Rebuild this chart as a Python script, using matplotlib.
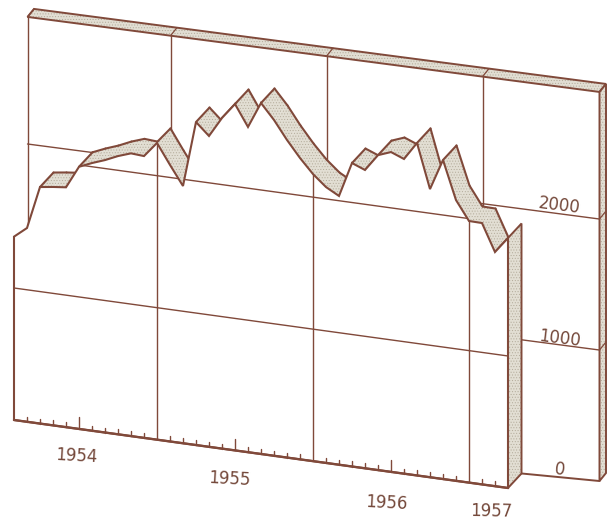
import matplotlib

matplotlib.use("Agg")
import matplotlib.pyplot as plt
from matplotlib.patches import Polygon

# monthly values, Feb 1954 to Apr 1957
months = list(range(39))
values = [1389, 1468, 1792, 1806, 1817, 1986, 2028, 2064, 2108, 2142, 2135, 2248,
          2095, 1949, 2447, 2355, 2505, 2624, 2464, 2659, 2544, 2406, 2283, 2175,
          2090, 2036, 2299, 2260, 2386, 2423, 2384, 2519, 2183, 2417, 2127, 1982,
          1980, 1774, 1894]
year_starts = [11, 23, 35]
mid_years = [5, 17, 29]
grid_values = [1000, 2000]
value_labels = ["2000", "1000", "0"]
year_labels = ["1954", "1955", "1956", "1957"]

INK = "#80493a"
SHADE = "#e2ded3"
DOTS = "#b3ab9a"
TEXT = "#74483a"
WALL_END = 44
WALL_TOP = 2970
DEPTH = (13.5, -14.5)
SLAB = (6.5, -8)

plt.rcParams["hatch.linewidth"] = 0.4


def front_xy(m, v):
    return 14 + 13 * m, 420 + 1.789 * m - 0.132 * v


def wall_xy(m, v):
    return 27.5 + 13 * m, 406 + 1.705 * m - 0.131 * v


def shift(p, d):
    return p[0] + d[0], p[1] + d[1]


def line(ax, a, b, lw=1.0, zorder=2, **kw):
    return ax.plot([a[0], b[0]], [a[1], b[1]], color=INK, lw=lw,
                   solid_capstyle="round", zorder=zorder, **kw)[0]


def shaded(ax, corners, outline=True, lw=1.4):
    ax.add_patch(Polygon(corners, zorder=2, fc=SHADE, ec=DOTS, lw=0, hatch="......"))
    if outline:
        ax.add_patch(Polygon(corners, zorder=2, fc="none", ec=INK, lw=lw))


fig = plt.figure(figsize=(6.08, 5.2), dpi=100, facecolor="white")
ax = fig.add_axes([0, 0, 1, 1])
ax.set_xlim(0, 608)
ax.set_ylim(520, 0)
ax.axis("off")

# slab top and right side of the back wall
tl, tr = wall_xy(0, WALL_TOP), wall_xy(WALL_END, WALL_TOP)
br = wall_xy(WALL_END, 0)
shaded(ax, [tl, tr, shift(tr, SLAB), shift(tl, SLAB)])
shaded(ax, [tr, br, shift(br, SLAB), shift(tr, SLAB)])

# wall grid
for g in grid_values:
    line(ax, wall_xy(0, g), wall_xy(WALL_END, g))
    line(ax, wall_xy(WALL_END, g), shift(wall_xy(WALL_END, g), SLAB), lw=0.9)
for m in [0] + year_starts:
    line(ax, wall_xy(m, WALL_TOP), wall_xy(m, 0))
    line(ax, wall_xy(m, WALL_TOP), shift(wall_xy(m, WALL_TOP), SLAB), lw=0.9)
end_base = shift(front_xy(months[-1], 0), DEPTH)
line(ax, end_base, br, lw=1.4)

# ribbon on top of the curve, drawn right to left so nearer parts cover farther ones
pts = [front_xy(m, v) for m, v in zip(months, values)]
back = [shift(p, DEPTH) for p in pts]


def faces_up(i):
    dx = pts[i + 1][0] - pts[i][0]
    dy = pts[i + 1][1] - pts[i][1]
    return dx * DEPTH[1] - dy * DEPTH[0] < 0


# the first month has no ribbon in the original
for i in range(len(pts) - 2, 0, -1):
    if not faces_up(i):
        continue
    shaded(ax, [pts[i], pts[i + 1], back[i + 1], back[i]], outline=False)
    line(ax, back[i], back[i + 1], lw=1.5)
    if not faces_up(i - 1):
        line(ax, pts[i], back[i], lw=1.5)
    if i == len(pts) - 2 or not faces_up(i + 1):
        line(ax, pts[i + 1], back[i + 1], lw=1.5)

# end face
last = pts[-1]
base = front_xy(months[-1], 0)
shaded(ax, [last, base, shift(base, DEPTH), shift(last, DEPTH)])

# front face hides whatever lies behind it
outline = pts + [base, front_xy(months[0], 0)]
face = Polygon(outline, fc="white", ec=INK, lw=1.5, zorder=3)
ax.add_patch(face)
for g in grid_values:
    ln = line(ax, front_xy(0, g), front_xy(months[-1], g), zorder=3)
    ln.set_clip_path(face)
for m in year_starts:
    ln = line(ax, front_xy(m, 0), front_xy(m, 3000), zorder=3)
    ln.set_clip_path(face)

# month ticks on the baseline
line(ax, front_xy(0, 0), base, lw=1.7, zorder=4)
for m in months[1:-1]:
    tick = 0
    if m in mid_years:
        tick = 90
    elif m not in year_starts:
        tick = 38
    if tick:
        line(ax, front_xy(m, 0), front_xy(m, tick), lw=1.0, zorder=4)

# value labels on the wall
font = dict(color=TEXT, fontsize=12, family="DejaVu Sans", ha="center", va="center", zorder=5)
for txt, g, up in zip(value_labels, [2000, 1000, 0], [8, 6, 6]):
    x, y = wall_xy(41, g)
    ax.text(x - 1, y - up, txt, rotation=-7, **font)

# year labels sit below the baseline
for txt, m, off, tilt in zip(year_labels, [4.7, 16.5, 28.6, 36.6], [28, 30, 32, 25.5], [-3, -3, -3, -1]):
    x, y = front_xy(m, 0)
    ax.text(x + 1, y + off, txt, rotation=tilt, **font)

fig.savefig("out.png", dpi=100)
